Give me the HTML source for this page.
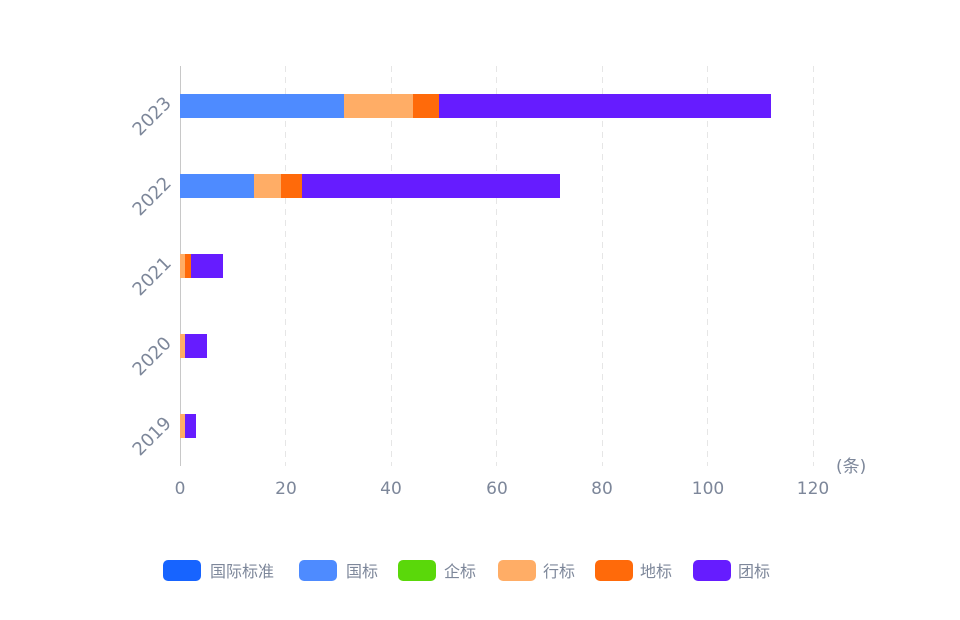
<!DOCTYPE html>
<html><head><meta charset="utf-8"><style>
body{margin:0;background:#fff;}
svg text{font-family:"DejaVu Sans","Noto Sans CJK SC",sans-serif;fill:#7d879a;}
</style></head><body>
<svg width="960" height="615" xmlns="http://www.w3.org/2000/svg">
<g stroke="#e6e6e6" stroke-dasharray="6,5" stroke-width="1">
<line x1="285.5" y1="66" x2="285.5" y2="466"/>
<line x1="391.5" y1="66" x2="391.5" y2="466"/>
<line x1="496.5" y1="66" x2="496.5" y2="466"/>
<line x1="602.5" y1="66" x2="602.5" y2="466"/>
<line x1="707.5" y1="66" x2="707.5" y2="466"/>
<line x1="813.5" y1="66" x2="813.5" y2="466"/>
</g>
<line x1="180.5" y1="66" x2="180.5" y2="466" stroke="#c8c8c8"/>
<rect x="180" y="94" width="164" height="24" fill="#4e8bff"/>
<rect x="344" y="94" width="69" height="24" fill="#ffad66"/>
<rect x="413" y="94" width="26" height="24" fill="#ff6a0a"/>
<rect x="439" y="94" width="332" height="24" fill="#661cff"/>
<rect x="180" y="174" width="74" height="24" fill="#4e8bff"/>
<rect x="254" y="174" width="27" height="24" fill="#ffad66"/>
<rect x="281" y="174" width="21" height="24" fill="#ff6a0a"/>
<rect x="302" y="174" width="258" height="24" fill="#661cff"/>
<rect x="180" y="254" width="5" height="24" fill="#ffad66"/>
<rect x="185" y="254" width="6" height="24" fill="#ff6a0a"/>
<rect x="191" y="254" width="32" height="24" fill="#661cff"/>
<rect x="180" y="334" width="5" height="24" fill="#ffad66"/>
<rect x="185" y="334" width="22" height="24" fill="#661cff"/>
<rect x="180" y="414" width="5" height="24" fill="#ffad66"/>
<rect x="185" y="414" width="11" height="24" fill="#661cff"/>
<g font-size="18" text-anchor="end">
<text transform="translate(168,100) rotate(-45)" dy="6">2023</text>
<text transform="translate(168,180) rotate(-45)" dy="6">2022</text>
<text transform="translate(168,260) rotate(-45)" dy="6">2021</text>
<text transform="translate(168,340) rotate(-45)" dy="6">2020</text>
<text transform="translate(168,420) rotate(-45)" dy="6">2019</text>
</g>
<g font-size="17" text-anchor="middle">
<text x="180" y="494">0</text>
<text x="286" y="494">20</text>
<text x="391" y="494">40</text>
<text x="497" y="494">60</text>
<text x="602" y="494">80</text>
<text x="708" y="494">100</text>
<text x="813" y="494">120</text>
</g>
<text x="836" y="472" font-size="17">(条)</text>
<g font-size="16">
<rect x="163" y="560" width="38" height="21" rx="5" fill="#1764ff"/><text x="210" y="577">国际标准</text>
<rect x="299" y="560" width="38" height="21" rx="5" fill="#4e8bff"/><text x="346" y="577">国标</text>
<rect x="398" y="560" width="38" height="21" rx="5" fill="#5ad80a"/><text x="444" y="577">企标</text>
<rect x="498" y="560" width="38" height="21" rx="5" fill="#ffad66"/><text x="543" y="577">行标</text>
<rect x="595" y="560" width="38" height="21" rx="5" fill="#ff6a0a"/><text x="640" y="577">地标</text>
<rect x="693" y="560" width="38" height="21" rx="5" fill="#661cff"/><text x="738" y="577">团标</text>
</g>
</svg>
</body></html>
